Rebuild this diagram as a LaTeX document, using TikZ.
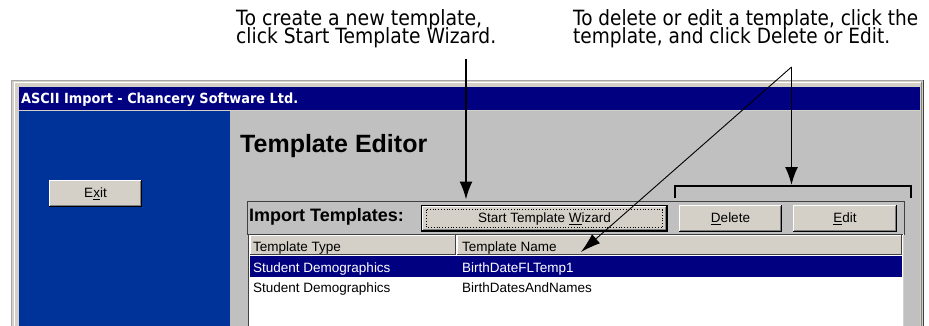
\documentclass[tikz,border=0pt]{standalone}
\usepackage{fontspec}
\setmainfont{Liberation Sans}
\newfontfamily\notefont{DejaVu Sans}
\usepackage{graphicx}
\usetikzlibrary{arrows.meta,calc}
\definecolor{navy}{HTML}{000080}
\definecolor{panelblue}{HTML}{003399}
\definecolor{face}{HTML}{D4D0C8}
\definecolor{silver}{HTML}{C0C0C0}
\definecolor{shadow}{HTML}{808080}
\definecolor{dkshadow}{HTML}{404040}
\newcommand\fitw[2]{\resizebox{#1}{\height}{#2}}
\newcommand\twolines[4]{\vbox{\baselineskip=18.5pt\lineskiplimit=-30pt\lineskip=0pt\hbox{\fitw{#1}{#2}}\hbox{\fitw{#3}{#4}}}}
\newcommand\winbtn[6]{%
  \node[btnface, minimum width={#4-#2}, minimum height={#5-#3}] (#1) at ({(#2+#4)/2},{(#3+#5)/2}) {#6};
  \draw[white,line width=1pt] ([shift={(0.5pt,0.5pt)}]#1.south west) -- ([shift={(0.5pt,-0.5pt)}]#1.north west) -- ([shift={(-0.5pt,-0.5pt)}]#1.north east);
  \draw[black,line width=1pt] ([shift={(0.5pt,0.5pt)}]#1.south west) -- ([shift={(-0.5pt,0.5pt)}]#1.south east) -- ([shift={(-0.5pt,-0.5pt)}]#1.north east);
  \draw[shadow,line width=1pt] ([shift={(1.5pt,1.5pt)}]#1.south west) -- ([shift={(-1.5pt,1.5pt)}]#1.south east) -- ([shift={(-1.5pt,-1.5pt)}]#1.north east);
}
\newcommand\hdrcell[5]{%
  \node[fill=face, inner sep=0, minimum width={#4-#2}, minimum height={#5-#3}] (#1) at ({(#2+#4)/2},{(#3+#5)/2}) {};
  \draw[white,line width=1pt] ([shift={(0.5pt,0.5pt)}]#1.south west) -- ([shift={(0.5pt,-0.5pt)}]#1.north west) -- ([shift={(-0.5pt,-0.5pt)}]#1.north east);
  \draw[dkshadow,line width=1pt] ([shift={(0.5pt,0.5pt)}]#1.south west) -- ([shift={(-0.5pt,0.5pt)}]#1.south east) -- ([shift={(-0.5pt,-0.5pt)}]#1.north east);
}
\begin{document}
\begin{tikzpicture}[x=1pt,y=-1pt,
  btnface/.style={fill=face, inner sep=0pt, font=\fontsize{13.5}{16}\selectfont, text height=10pt, text depth=2pt},
  uitext/.style={font=\fontsize{13.5}{16}\selectfont, inner sep=0pt, anchor=base west},
  note/.style={font=\notefont\fontsize{21}{24}\selectfont, inner sep=0pt, anchor=base west},
  callout/.style={line width=1.8pt, -{Latex[length=18pt,width=13pt]}},
  thincallout/.style={line width=0.9pt, -{Latex[length=20pt,width=12pt]}},
]
\useasboundingbox (0,0) rectangle (929,326);
\fill[white] (0,0) rectangle (929,326);

% window frame
\fill[face] (11,80) rectangle (924,330);
\draw[shadow!70, line width=0.8pt] (11.4,330) -- (11.4,80.4) -- (924,80.4);
\draw[white, line width=1pt] (14.5,330) -- (14.5,82.5) -- (921,82.5);
\draw[shadow, line width=1pt] (921.5,82) -- (921.5,330);
\draw[dkshadow, line width=1pt] (923.5,80) -- (923.5,330);

% title bar
\fill[navy] (19,87) rectangle (920,110);
\node[anchor=base west, inner sep=0, text=white, font=\notefont\bfseries\fontsize{14}{16}\selectfont] (title) at (21,103.5) {\fitw{277pt}{ASCII Import - Chancery Software Ltd.}};

% panels
\fill[panelblue] (19,111) rectangle (230,330);
\fill[silver] (230,111) rectangle (920,330);

% exit button
\winbtn{exit}{49}{180}{142}{207}{E\underline{x}it}

% heading
\node[anchor=base west, inner sep=0, font=\bfseries\fontsize{25}{30}\selectfont] (heading) at (240,153) {Template Editor};

% group box
\node[draw=dkshadow, line width=1.2pt, fill=silver, inner sep=0, minimum width=657, minimum height=33, anchor=north west] (grp) at (247,201) {};
\node[anchor=base west, inner sep=0, font=\bfseries\fontsize{18}{20}\selectfont] (imptitle) at (249,221) {Import Templates:};

% buttons
\winbtn{wizard}{422}{206}{667}{231}{Start Template \underline{W}izard}
\draw[black, line width=1pt] (421.5,205.5) rectangle (667.5,231.5);
\draw[black, dotted, line width=0.8pt] (426.5,209.5) rectangle (662.5,227.5);
\winbtn{delete}{679}{205}{782}{232}{\underline{D}elete}
\winbtn{edit}{793}{205}{897}{232}{\underline{E}dit}

% list view
\node[fill=white, inner sep=0, minimum width=656, minimum height=96, anchor=north west] (list) at (248,234) {};
\draw[dkshadow, line width=1pt] (248.5,330) -- (248.5,234.5) -- (903,234.5);
\draw[face, line width=1pt] (903,234.5) -- (903,330);
\hdrcell{hdrA}{250}{235}{456}{255}
\hdrcell{hdrB}{457}{235}{902}{255}
\node[fill=navy, inner sep=0, minimum width=652, minimum height=21, anchor=north west] (rowsel) at (250,256) {};
\node[uitext] (hdrAtxt) at (253,251.5) {Template Type};
\node[uitext] (hdrBtxt) at (462,251.5) {Template Name};
\node[uitext, text=white] (type1) at (253,272) {Student Demographics};
\node[uitext, text=white] (name1) at (462,272) {BirthDateFLTemp1};
\node[uitext] (type2) at (253,292.5) {Student Demographics};
\node[uitext] (name2) at (462,292.5) {BirthDatesAndNames};

% notes (base anchor = baseline of second line)
\node[note] (note1) at (236,44) {\twolines{246pt}{To create a new template,}{260pt}{click Start Template Wizard.}};
\node[note] (note2) at (573,44) {\twolines{345pt}{To delete or edit a template, click the}{317pt}{template, and click Delete or Edit.}};

% bracket over Delete/Edit
\coordinate (brL) at (674.5,186);
\coordinate (brR) at (911,186);
\draw[line width=2pt] ($(brL)+(0,12)$) -- (brL) -- (brR) -- ($(brR)+(0,12)$);

% callouts
\coordinate (a1) at (466,59);
\draw[callout, shorten >=1.5pt] (a1) -- (a1 |- grp.north);
\coordinate (src) at (791.5,67);
\draw[callout, shorten >=1pt] (src) -- (src |- brL);
\draw[thincallout] (src) -- ([shift={(7pt,10pt)}]name1.north east);
\end{tikzpicture}
\end{document}
